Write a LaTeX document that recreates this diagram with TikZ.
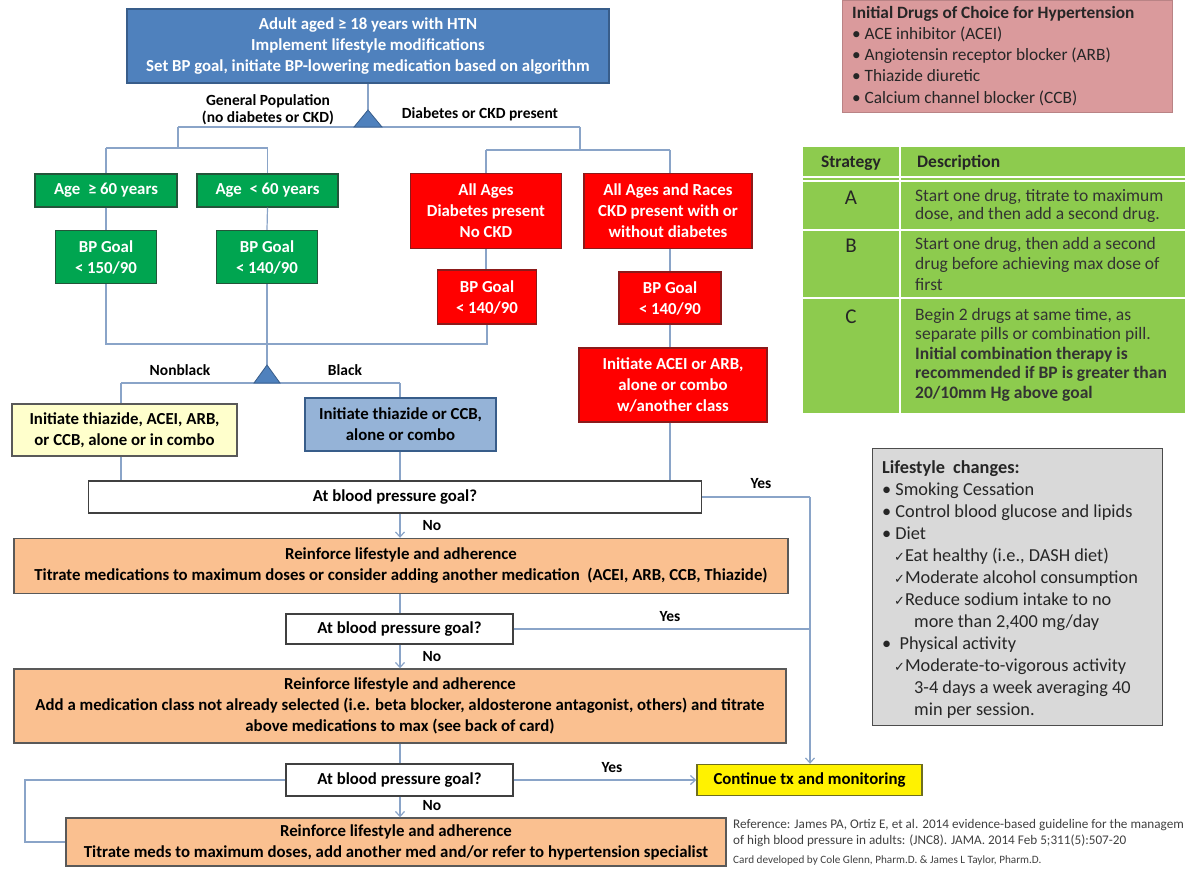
\documentclass[tikz,border=0pt]{standalone}
\usepackage{fontspec}
\setmainfont{Carlito}
\newfontfamily\dejavu{DejaVu Sans}
\usetikzlibrary{arrows.meta}
\definecolor{topblue}{HTML}{4F81BD}
\definecolor{topborder}{HTML}{385D8A}
\definecolor{gbox}{HTML}{00A550}
\definecolor{gborder}{HTML}{24553A}
\definecolor{rbox}{HTML}{FF0000}
\definecolor{rborder}{HTML}{8C1A1A}
\definecolor{ylight}{HTML}{FFFFCC}
\definecolor{bluelight}{HTML}{95B3D7}
\definecolor{orng}{HTML}{FAC090}
\definecolor{connc}{HTML}{8AA4C8}
\definecolor{pinkbg}{HTML}{DA9A9C}
\definecolor{tablegreen}{HTML}{8DCB4E}
\definecolor{graybg}{HTML}{D9D9D9}
\definecolor{darkline}{HTML}{404040}
\definecolor{ybord}{HTML}{6E6E20}
\begin{document}
\begin{tikzpicture}[x=1pt,y=-1pt,
  box/.style={draw, line width=1.4pt, inner sep=0pt, align=center,
    font=\fontsize{16.8}{21}\selectfont\bfseries},
  bluebox/.style={box, fill=topblue, draw=topborder, text=white},
  greenbox/.style={box, fill=gbox, draw=gborder, text=white},
  redbox/.style={box, fill=rbox, draw=rborder, text=white},
  ybox/.style={box, fill=ylight, draw=gray!70!black},
  lbbox/.style={box, fill=bluelight, draw=topborder},
  obox/.style={box, fill=orng, draw=gray!70!black},
  wbox/.style={box, fill=white, draw=darkline},
  contbox/.style={box, fill=yellow, draw=ybord},
  lbl/.style={inner sep=0pt, align=center, font=\fontsize{15.5}{17}\selectfont\bfseries},
  conn/.style={draw=connc, line width=1.2pt},
  arr/.style={conn, -{Straight Barb[length=5pt,width=9pt]}},
  tri/.style={fill=topblue, draw=topborder, line width=0.8pt},
  side/.style={inner sep=0pt, anchor=north west, align=left},
  chk/.style={},
]
\useasboundingbox (0,0) rectangle (1187,872);

% ---------------- main flow boxes ----------------
\node[bluebox, minimum width=482, minimum height=74] (top) at (368,46)
  {Adult aged ≥ 18 years with HTN\\Implement lifestyle modifications\\Set BP goal, initiate BP-lowering medication based on algorithm};

\node[greenbox, minimum width=142, minimum height=33] (age1) at (106,190.5) {Age\ \ ≥ 60 years};
\node[greenbox, minimum width=141, minimum height=33] (age2) at (267.5,190.5) {Age\ \ < 60 years};
\node[greenbox, minimum width=101, minimum height=53] (goal1) at (106,257) {BP Goal\\< 150/90};
\node[greenbox, minimum width=101, minimum height=53] (goal2) at (267,257) {BP Goal\\< 140/90};

\node[redbox, minimum width=151, minimum height=75] (red1) at (486,211) {All Ages\\Diabetes present\\No CKD};
\node[redbox, minimum width=168, minimum height=75] (red2) at (668,211) {All Ages and Races\\CKD present with or\\without diabetes};
\node[redbox, minimum width=99, minimum height=54] (rgoal1) at (487,297) {BP Goal\\< 140/90};
\node[redbox, minimum width=102, minimum height=52] (rgoal2) at (670,298) {BP Goal\\< 140/90};
\node[redbox, minimum width=188, minimum height=74] (acei) at (673,385) {Initiate ACEI or ARB,\\alone or combo\\w/another class};

\node[ybox, minimum width=225, minimum height=52] (nonblack) at (124.5,430) {Initiate thiazide, ACEI, ARB,\\or CCB, alone or in combo};
\node[lbbox, minimum width=191, minimum height=53] (black) at (400.5,424.5) {Initiate thiazide or CCB,\\alone or combo};

\node[wbox, minimum width=613, minimum height=32] (bp1) at (395,497) {At blood pressure goal?};
\node[obox, minimum width=774, minimum height=55] (or1) at (401,566)
  {Reinforce lifestyle and adherence\\Titrate medications to maximum doses or consider adding another medication\ \ (ACEI, ARB, CCB, Thiazide)};
\node[wbox, minimum width=227, minimum height=30] (bp2) at (399.5,629) {At blood pressure goal?};
\node[obox, minimum width=772, minimum height=74] (or2) at (400,706)
  {\fontsize{16.8}{19}\selectfont Reinforce lifestyle and adherence\\Add a medication class not already selected (i.e. beta blocker, aldosterone antagonist, others) and titrate\\above medications to max (see back of card)};
\node[wbox, minimum width=227, minimum height=32] (bp3) at (399.5,780) {At blood pressure goal?};
\node[contbox, minimum width=225, minimum height=31] (cont) at (809.5,780) {Continue tx and monitoring};
\node[obox, minimum width=660, minimum height=48] (or3) at (396,842)
  {\fontsize{16.8}{20}\selectfont Reinforce lifestyle and adherence\\Titrate meds to maximum doses, add another med and/or refer to hypertension specialist};

% ---------------- labels ----------------
\node[lbl] (lgen) at (268,110) {General Population\\(no diabetes or CKD)};
\node[lbl] (ldiab) at (480,114) {Diabetes or CKD present};
\node[lbl] (lnonb) at (180,370) {Nonblack};
\node[lbl] (lblack) at (345,370) {Black};
\node[lbl] (ly1) at (761,484) {Yes};
\node[lbl] (ly2) at (670,617) {Yes};
\node[lbl] (ly3) at (612,768) {Yes};
\node[lbl] (ln1) at (432,526) {No};
\node[lbl] (ln2) at (432,657) {No};
\node[lbl] (ln3) at (432,806) {No};

% ---------------- helper coordinates ----------------
\coordinate (t1apex) at (368,110);
\coordinate (gL) at (178,127);
\coordinate (gR) at (580,127);
\coordinate (gLd) at (178,148);
\coordinate (gRd) at (580,150);
\coordinate (c344) at (0,344);
\coordinate (t2apex) at (267,365);
\coordinate (nbx) at (121,383);
\coordinate (blx) at (400,383);
\coordinate (rx) at (670,0);
\coordinate (yx) at (810,497);
\coordinate (loopx) at (25,0);

% ---------------- connectors ----------------
\draw[conn] (top.south) -- (t1apex);
\draw[conn] (gL) -- (gR);
\draw[conn] (gL) -- (gLd);
\draw[conn] (gR) -- (gRd);
\draw[conn] (age1.north |- gLd) -- (age2.north |- gLd);
\draw[conn] (age1.north |- gLd) -- (age1.north);
\draw[conn] (age2.north |- gLd) -- (age2.north);
\draw[conn] (red1.north |- gRd) -- (rgoal2.north |- gRd);
\draw[conn] (red1.north |- gRd) -- (red1.north);
\draw[conn] (rgoal2.north |- gRd) -- (rgoal2.north |- red2.north);
\draw[conn] (age1.south) -- (goal1.north);
\draw[conn] (age2.south) -- (goal2.north);
\draw[conn] (red1.south) -- (rgoal1.north -| red1.south);
\draw[conn] (rgoal2.north |- red2.south) -- (rgoal2.north);
\draw[conn] (goal1.south) -- (goal1.south |- c344) -- (rgoal1.south |- c344) -- (rgoal1.south);
\draw[conn] (goal2.south) -- (t2apex);
\draw[conn] (nbx) -- (blx);
\draw[conn] (nbx) -- (nonblack.north -| nbx);
\draw[conn] (blx) -- (black.north -| blx);
\draw[conn] (rgoal2.south) -- (acei.north -| rgoal2.south);
\draw[conn] (nonblack.south -| nbx) -- (bp1.north -| nbx);
\draw[conn] (black.south -| blx) -- (bp1.north -| blx);
\draw[conn] (acei.south -| rx) -- (bp1.north -| rx);
\draw[conn] (bp1.east) -- (yx);
\draw[arr] (yx) -- (cont.north -| yx);
\draw[arr] (bp1.south -| blx) -- (or1.north -| blx);
\draw[conn] (or1.south -| blx) -- (bp2.north -| blx);
\draw[conn] (bp2.east) -- (bp2.east -| yx);
\draw[arr] (bp2.south -| blx) -- (or2.north -| blx);
\draw[conn] (or2.south -| blx) -- (bp3.north -| blx);
\draw[arr] (bp3.east) -- (cont.west);
\draw[arr] (bp3.south -| blx) -- (or3.north -| blx);
\draw[conn] (bp3.west) -- (bp3.west -| loopx) -- (or3.west -| loopx) -- (or3.west);

% triangles
\filldraw[tri] (t1apex) -- ++(14,17) -- ++(-28,0) -- cycle;
\filldraw[tri] (t2apex) -- ++(13,18) -- ++(-26,0) -- cycle;

% ---------------- right side: drugs ----------------
\node[fill=pinkbg, draw=pinkbg!85!black, line width=0.6pt, anchor=north west, minimum width=330, minimum height=112, inner sep=0pt] (drugs) at (842,0) {};
\node[side, font=\fontsize{17.3}{21.2}\selectfont, text=black!85] (drugstxt) at (852,6)
  {\textbf{Initial Drugs of Choice for Hypertension}\\
   \textbullet\ ACE inhibitor (ACEI)\\
   \textbullet\ Angiotensin receptor blocker (ARB)\\
   \textbullet\ Thiazide diuretic\\
   \textbullet\ Calcium channel blocker (CCB)};

% ---------------- right side: strategy table ----------------
\node[fill=tablegreen, anchor=north west, minimum width=382, minimum height=266, inner sep=0pt] (tbl) at (803,147) {};
\draw[white, line width=2pt] (803,177) -- (1185,177);
\draw[white, line width=1.5pt] (803,181) -- (1185,181);
\draw[white, line width=2pt] (803,229.5) -- (1185,229.5);
\draw[white, line width=2pt] (803,297.5) -- (1185,297.5);
\draw[white, line width=2.5pt] (900,147) -- (900,413);
\node[inner sep=0pt, font=\fontsize{17.5}{19}\selectfont\bfseries, text=black!85] (hS) at (851,163) {Strategy};
\node[inner sep=0pt, anchor=west, font=\fontsize{17.5}{19}\selectfont\bfseries, text=black!85] (hD) at (917,163) {Description};
\node[inner sep=0pt, font=\fontsize{21}{23}\selectfont, text=black!85] (sA) at (851,198) {A};
\node[inner sep=0pt, font=\fontsize{21}{23}\selectfont, text=black!85] (sB) at (851,246) {B};
\node[inner sep=0pt, font=\fontsize{21}{23}\selectfont, text=black!85] (sC) at (851,317) {C};
\node[side, font=\fontsize{17.5}{18.5}\selectfont, text=black!80] (dA) at (915,189)
  {Start one drug, titrate to maximum\\dose, and then add a second drug.};
\node[side, font=\fontsize{17.5}{20.5}\selectfont, text=black!80] (dB) at (915,237)
  {Start one drug, then add a second\\drug before achieving max dose of\\first};
\node[side, font=\fontsize{17.5}{19.5}\selectfont, text=black!80] (dC) at (915,308)
  {Begin 2 drugs at same time, as\\separate pills or combination pill.\\
   \textbf{Initial combination therapy is}\\
   \textbf{recommended if BP is greater than}\\
   \textbf{20/10mm Hg above goal}};

% ---------------- right side: lifestyle ----------------
\node[fill=graybg, draw=gray!60!black, line width=1.4pt, anchor=north west, minimum width=290, minimum height=277, inner sep=0pt] (life) at (872,448) {};
\node[side, font=\fontsize{18.3}{22}\selectfont, text=black!85] (lifetxt) at (882,460)
  {\textbf{Lifestyle\ \ changes:}\\
   \textbullet\ Smoking Cessation\\
   \textbullet\ Control blood glucose and lipids\\
   \textbullet\ Diet\\
   \hspace*{12pt}{\dejavu\fontsize{13}{22}\selectfont ✓}Eat healthy (i.e., DASH diet)\\
   \hspace*{12pt}{\dejavu\fontsize{13}{22}\selectfont ✓}Moderate alcohol consumption\\
   \hspace*{12pt}{\dejavu\fontsize{13}{22}\selectfont ✓}Reduce sodium intake to no\\
   \hspace*{32pt}more than 2,400 mg/day\\
   \textbullet\ \ Physical activity\\
   \hspace*{12pt}{\dejavu\fontsize{13}{22}\selectfont ✓}Moderate-to-vigorous activity\\
   \hspace*{32pt}3-4 days a week averaging 40\\
   \hspace*{32pt}min per session.};

% ---------------- reference ----------------
\node[side, font=\fontsize{13.2}{16}\selectfont, text=black!75] (ref) at (733,819)
  {Reference: James PA, Ortiz E, et al. 2014 evidence-based guideline for the managem\\
   of high blood pressure in adults: (JNC8). JAMA. 2014 Feb 5;311(5):507-20};
\node[inner sep=0pt, anchor=west, font=\fontsize{11.2}{13}\selectfont, text=black!75] (card) at (733,861)
  {Card developed by Cole Glenn, Pharm.D. \& James L Taylor, Pharm.D.};
\end{tikzpicture}
\end{document}
